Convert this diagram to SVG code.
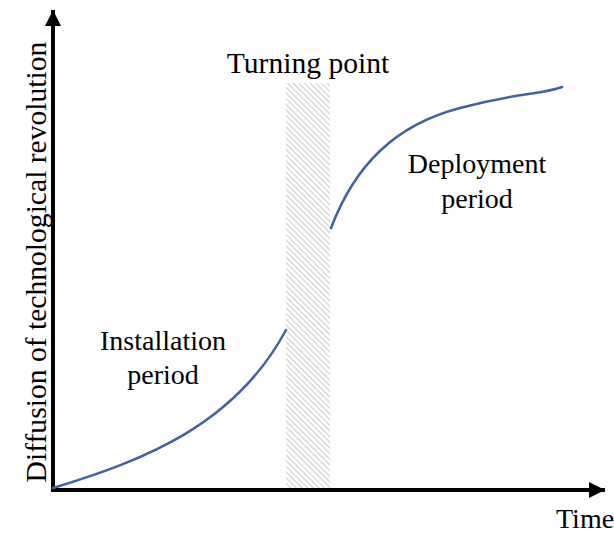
<svg xmlns="http://www.w3.org/2000/svg" width="614" height="536" viewBox="0 0 614 536">
<defs>
<style>
.t{font-family:"Liberation Serif","Times New Roman",serif;font-size:28px;fill:#000}
.big{font-size:29.6px}
.ax{stroke:#000;stroke-width:4;fill:none}
.cv{stroke:#4262a2;stroke-width:2.5;fill:none;stroke-linecap:round}
</style>
<pattern id="hatch" patternUnits="userSpaceOnUse" width="4" height="4" patternTransform="rotate(-45)">
<rect width="4" height="4" fill="#fff"/>
<line x1="0" y1="0" x2="0" y2="4" stroke="#bdbdbd" stroke-width="1.6"/>
</pattern>
<marker id="ah" markerUnits="userSpaceOnUse" markerWidth="17" markerHeight="16" refX="16" refY="8" orient="auto">
<path d="M0,0 L16,8 L0,16 Z" fill="#000"/>
</marker>
</defs>
<rect width="614" height="536" fill="#fff"/>
<g id="turning-band">
<rect x="286" y="83" width="44" height="405" fill="url(#hatch)"/>
</g>
<g id="connectors">
<line class="ax" x1="53" y1="492" x2="53" y2="10" marker-end="url(#ah)"/>
<line class="ax" x1="51" y1="490" x2="605" y2="490" marker-end="url(#ah)"/>
<path class="cv" d="M53,488 C145,460 235,425 286,330"/>
<path class="cv" d="M331,228 C355,165 395,125 460,108 S540,95 562,87"/>
</g>
<g id="y-label">
<text class="t big" transform="translate(46,262) rotate(-90)" text-anchor="middle">Diffusion of technological revolution</text>
</g>
<g id="x-label">
<text class="t" x="556" y="528">Time</text>
</g>
<g id="turning-point">
<text class="t big" x="308" y="73" text-anchor="middle">Turning point</text>
</g>
<g id="installation">
<text class="t" x="163" y="350" text-anchor="middle">Installation</text>
<text class="t" x="163" y="384" text-anchor="middle">period</text>
</g>
<g id="deployment">
<text class="t" x="477" y="173" text-anchor="middle">Deployment</text>
<text class="t" x="477" y="208" text-anchor="middle">period</text>
</g>
</svg>
